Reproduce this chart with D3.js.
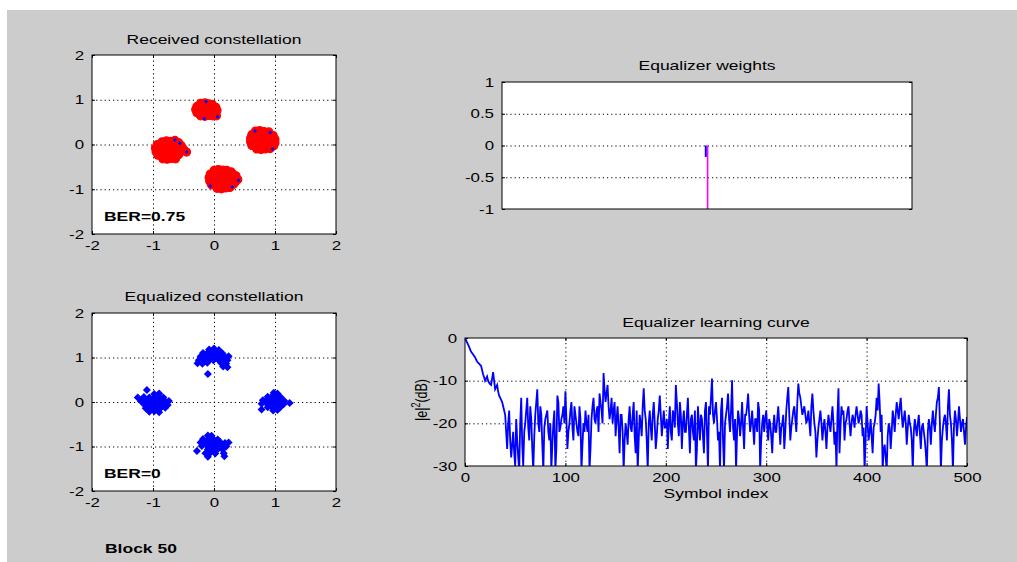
<!DOCTYPE html>
<html>
<head>
<meta charset="utf-8">
<script src="https://cdnjs.cloudflare.com/ajax/libs/d3/7.8.5/d3.min.js"></script>
<style>
  body { margin: 0; background: #ffffff; }
  text { font-family: "Liberation Sans", Arial, sans-serif; font-size: 12.5px; fill: #000; }
</style>
</head>
<body>
<div id="chart"></div>
<script>
// ---- data ----

// received constellation (red 'o' markers), one array per cluster
var recTop = [[-0.22,0.92],[-0.15,0.93],[-0.09,0.91],[-0.03,0.9],
  [-0.28,0.85],[-0.21,0.86],[-0.15,0.84],[-0.09,0.85],[-0.03,0.84],[0.03,0.83],
  [-0.3,0.78],[-0.24,0.77],[-0.18,0.79],[-0.12,0.78],[-0.06,0.77],[0.0,0.78],[0.05,0.76],
  [-0.28,0.71],[-0.22,0.72],[-0.16,0.7],[-0.1,0.71],[-0.04,0.7],[0.02,0.71],
  [-0.22,0.64],[-0.15,0.63],[-0.08,0.65],[-0.02,0.64],[0.04,0.64]];
var recRight = [[0.68,0.3],[0.75,0.31],[0.82,0.29],[0.9,0.28],
  [0.62,0.22],[0.68,0.23],[0.74,0.21],[0.8,0.22],[0.86,0.2],[0.92,0.22],[0.97,0.2],
  [0.6,0.14],[0.66,0.13],[0.72,0.15],[0.78,0.14],[0.84,0.13],[0.9,0.15],[0.96,0.13],[1.0,0.12],
  [0.6,0.06],[0.66,0.07],[0.72,0.05],[0.78,0.06],[0.84,0.07],[0.9,0.05],[0.96,0.06],[1.0,0.04],
  [0.62,-0.02],[0.68,-0.03],[0.74,-0.01],[0.8,-0.02],[0.86,-0.03],[0.92,-0.01],[0.98,-0.03],
  [0.7,-0.1],[0.77,-0.11],[0.84,-0.1],[0.92,-0.09]];
var recLeft = [[-0.85,0.06],[-0.78,0.08],[-0.71,0.07],[-0.64,0.09],[-0.58,0.04],
  [-0.93,0.0],[-0.87,-0.01],[-0.8,0.0],[-0.74,-0.01],[-0.67,0.0],[-0.6,-0.01],[-0.54,-0.02],
  [-0.96,-0.08],[-0.9,-0.08],[-0.83,-0.07],[-0.77,-0.09],[-0.7,-0.08],[-0.63,-0.07],[-0.56,-0.09],[-0.5,-0.1],
  [-0.95,-0.16],[-0.88,-0.17],[-0.82,-0.15],[-0.75,-0.16],[-0.68,-0.17],[-0.62,-0.15],[-0.55,-0.17],[-0.45,-0.17],
  [-0.92,-0.24],[-0.85,-0.25],[-0.79,-0.23],[-0.72,-0.24],[-0.65,-0.25],[-0.58,-0.23],
  [-0.84,-0.32],[-0.77,-0.33],[-0.7,-0.31],[-0.63,-0.32]];
var recBottom = [[0.0,-0.58],[0.07,-0.56],[0.14,-0.57],[0.21,-0.58],[0.28,-0.61],
  [-0.06,-0.66],[0.0,-0.65],[0.06,-0.67],[0.12,-0.66],[0.18,-0.65],[0.24,-0.67],[0.31,-0.66],[0.36,-0.7],
  [-0.08,-0.74],[-0.02,-0.75],[0.04,-0.73],[0.1,-0.74],[0.16,-0.75],[0.22,-0.73],[0.28,-0.74],[0.34,-0.75],[0.39,-0.78],
  [-0.07,-0.82],[-0.01,-0.83],[0.05,-0.81],[0.11,-0.82],[0.17,-0.83],[0.23,-0.81],[0.29,-0.82],[0.35,-0.84],
  [-0.04,-0.9],[0.02,-0.91],[0.08,-0.89],[0.14,-0.9],[0.2,-0.91],[0.26,-0.9],[0.32,-0.89],
  [0.05,-0.98],[0.12,-0.99],[0.19,-0.97],[0.26,-0.96]];
// blue '.' points of the received block that show through at the rims
var recBlue = [[-0.13,0.96],[0.06,0.62],[-0.16,0.58],[-0.64,0.1],[-0.56,0.03],[-0.45,-0.17],
  [0.67,0.3],[0.92,0.27],[0.96,-0.1],[0.4,-0.8],[-0.06,-0.93],[0.3,-0.95]];

// equalized constellation (blue markers)
var eqTop = [[-0.08,1.18],[0.0,1.2],[0.08,1.17],
  [-0.18,1.1],[-0.1,1.11],[-0.02,1.1],[0.06,1.12],[0.14,1.09],
  [-0.22,1.02],[-0.14,1.03],[-0.06,1.01],[0.02,1.03],[0.1,1.02],[0.18,1.01],[0.24,1.03],
  [-0.25,0.94],[-0.17,0.95],[-0.09,0.93],[-0.01,0.94],[0.07,0.95],[0.15,0.93],[0.22,0.94],
  [-0.27,0.87],[-0.19,0.86],[-0.11,0.88],[0.12,0.87],[0.2,0.86],
  [0.15,0.8],[0.22,0.78],[-0.1,0.63]];
var eqRight = [[0.98,0.21],[1.04,0.19],
  [0.88,0.12],[0.95,0.13],[1.02,0.12],[1.09,0.11],
  [0.8,0.04],[0.87,0.05],[0.94,0.04],[1.01,0.03],[1.08,0.05],[1.15,0.03],
  [0.78,-0.04],[0.86,-0.03],[0.93,-0.05],[1.0,-0.04],[1.07,-0.03],[1.14,-0.05],[1.24,-0.02],
  [0.88,-0.12],[0.95,-0.11],[1.02,-0.13],[1.09,-0.11],
  [0.78,-0.17],[0.97,-0.19],[1.04,-0.18]];
var eqLeft = [[-1.1,0.27],[-0.98,0.18],[-0.9,0.19],
  [-1.25,0.1],[-1.15,0.11],[-1.06,0.1],[-0.98,0.09],[-0.9,0.11],[-0.83,0.1],
  [-1.2,0.02],[-1.12,0.03],[-1.04,0.01],[-0.96,0.02],[-0.88,0.03],[-0.8,0.01],[-0.74,0.02],
  [-1.14,-0.06],[-1.06,-0.05],[-0.98,-0.07],[-0.9,-0.06],[-0.82,-0.05],[-0.76,-0.07],
  [-1.12,-0.14],[-1.04,-0.13],[-0.96,-0.15],[-0.88,-0.14],[-0.8,-0.13],
  [-1.06,-0.22],[-0.98,-0.21],[-0.9,-0.23]];
var eqBottom = [[-0.1,-0.75],[-0.04,-0.76],
  [-0.18,-0.83],[-0.1,-0.84],[-0.02,-0.82],[0.06,-0.84],
  [-0.22,-0.91],[-0.14,-0.9],[-0.06,-0.92],[0.02,-0.91],[0.1,-0.9],[0.18,-0.92],[0.24,-0.91],
  [-0.2,-0.99],[-0.12,-0.98],[-0.04,-1.0],[0.04,-0.99],[0.12,-0.98],[0.2,-1.0],
  [-0.28,-1.1],[-0.1,-1.07],[-0.02,-1.08],[0.06,-1.06],[0.14,-1.07],
  [-0.14,-1.15],[-0.06,-1.14],[0.02,-1.16],[0.16,-1.15],
  [-0.1,-1.23],[0.17,-1.22]];

// equalizer weights (taps 1..21): real part blue, imaginary part magenta
var taps = [1,2,3,4,5,6,7,8,9,10,11,12,13,14,15,16,17,18,19,20,21];
var weightsReal = [0,0,0,0,0,0,0,0,0,0,-0.18,0,0,0,0,0,0,0,0,0,0];
var weightsImag = [0,0,0,0,0,0,0,0,0,0,-1,0,0,0,0,0,0,0,0,0,0];

// learning curve |e|^2 in dB: even symbols 0..500
var errDbEven = [
  0, -1, -2, -3.2, -3.8, -4.5, -5.5, -6, -6.5, -8.5,
  -10, -9, -10.5, -11, -8, -12, -11, -13.5, -14.5, -16,
  -18, -26, -17, -28, -22, -30, -24, -31, -14, -30,
  -20, -14, -24, -19, -31, -18, -12, -22, -18, -31,
  -19, -17, -24, -31, -20, -31, -13.5, -22, -19, -16,
  -12.5, -26, -20, -15, -24, -18, -22, -16, -31, -20,
  -17, -22, -31, -19, -14, -20, -16, -13, -17, -8.2,
  -15, -11, -19, -14, -17, -23, -16, -27, -18, -31,
  -20, -25, -16, -22, -15, -27, -31, -18, -23, -11.8,
  -19, -31, -17, -24, -15, -26, -19, -13.5, -23, -17,
  -21, -26, -16, -24, -18, -11, -20, -15, -26, -17,
  -22, -14, -27, -18, -24, -31, -16, -24, -19, -27,
  -15, -31, -18, -9.5, -20, -15, -24, -31, -14, -31,
  -18, -13, -22, -9.9, -24, -31, -17, -23, -15, -26,
  -18, -13, -22, -17, -25, -19, -15, -31, -20, -22,
  -17, -24, -20, -27, -18, -22, -16, -25, -20, -26,
  -17, -11.5, -24, -19, -16, -22, -10.7, -14, -18, -16,
  -20, -17, -23, -13, -20, -28, -21, -17, -24, -19,
  -26, -18, -22, -16, -25, -31, -11.8, -21, -18, -24,
  -19, -16, -23, -18, -21, -16, -20, -17, -23, -31,
  -16, -24, -19, -27, -20, -14, -10.7, -22, -31, -25,
  -31, -20, -26, -17, -22, -15, -19, -14, -21, -17,
  -25, -18, -21, -31, -19, -23, -18, -26, -20, -24,
  -31, -19, -25, -17, -22, -15, -11.5, -31, -21, -18,
  -24, -12, -20, -31, -17, -23, -16, -22, -19, -25,
  -18.5
];
// odd symbols 1..499
var errDbOdd = [
  -0.5, -1.5, -2.6, -3.5, -4.2, -5, -5.8, -6.3, -7.5, -9.2,
  -9.5, -10, -10.8, -9.5, -10, -11.5, -12.5, -14, -15, -17,
  -22, -20, -24, -25, -27, -19, -28, -20, -25, -22,
  -17, -21, -16, -26, -23, -15, -20, -16, -25, -21,
  -18, -22, -20, -25, -17, -26, -15, -21, -18, -20,
  -19, -22, -17, -21, -16, -20, -23, -19, -25, -22,
  -20, -18, -26, -16, -19, -17, -22, -15, -20, -12,
  -13, -16, -17, -20, -15, -19, -21, -18, -22, -24,
  -22, -19, -21, -18, -23, -17, -24, -20, -16, -17,
  -24, -20, -21, -18, -20, -23, -17, -18, -20, -21,
  -19, -20, -22, -17, -21, -15, -23, -18, -20, -22,
  -18, -21, -19, -22, -17, -26, -20, -18, -23, -17,
  -22, -16, -14, -18, -17, -19, -22, -17, -24, -20,
  -16, -19, -17, -21, -19, -22, -19, -20, -21, -18,
  -16, -18, -20, -21, -19, -22, -17, -24, -18, -19,
  -21, -19, -23, -21, -22, -19, -20, -21, -18, -22,
  -14, -18, -21, -17, -19, -15, -13, -16, -17, -18,
  -19, -20, -16, -17, -22, -24, -19, -20, -21, -22,
  -21, -20, -19, -20, -22, -18, -27, -16, -17, -20,
  -17, -20, -20, -19, -18, -18, -19, -18, -21, -24,
  -20, -22, -23, -21, -18, -17, -15, -18, -26, -28,
  -23, -21, -22, -19, -18, -17, -16, -18, -19, -20,
  -21, -20, -24, -22, -21, -20, -22, -21, -22, -27,
  -22, -21, -20, -20, -18, -14, -20, -24, -19, -20,
  -16, -18, -24, -21, -19, -20, -19, -20, -22, -21
];
// interleave into one series, symbol order
var errSymbols = [], errDb = [];
errDbEven.forEach(function(v, i) {
  errSymbols.push(2 * i); errDb.push(v);
  if (i < errDbOdd.length) { errSymbols.push(2 * i + 1); errDb.push(errDbOdd[i]); }
});

var constTicks = [-2, -1, 0, 1, 2];
var constGrid = [-1, 0, 1];
var weightTicks = [-1, -0.5, 0, 0.5, 1];
var weightGrid = [-0.5, 0, 0.5];
var lcXTicks = [0, 100, 200, 300, 400, 500];
var lcXGrid = [100, 200, 300, 400];
var lcYTicks = [-30, -20, -10, 0];
var lcYGrid = [-20, -10];

// ---- drawing ----
var w = 1017, h = 562;
var stretch = 1.35;      // the figure is horizontally stretched, so is its text
var titleStretch = 1.4;

var svg = d3.select("#chart").append("svg")
  .attr("width", w)
  .attr("height", h);

svg.append("rect")
  .attr("x", 7).attr("y", 10)
  .attr("width", w - 7).attr("height", h - 10)
  .attr("fill", "#cccccc");

function label(x, y, txt, anchor, bold) {
  return svg.append("text")
    .attr("transform", "translate(" + x + "," + y + ") scale(" + titleStretch + ",1)")
    .attr("text-anchor", anchor || "middle")
    .style("font-weight", bold ? "bold" : "normal")
    .text(txt);
}

function fmt(d) { return String(d); }

// white plot area, dotted grid, inward ticks on all sides, labels left/bottom
function makeAxes(box, xDom, yDom, o) {
  var x = d3.scaleLinear().domain(xDom).range([box.x0, box.x1]);
  var y = d3.scaleLinear().domain(yDom).range([box.y1, box.y0]);
  var pw = box.x1 - box.x0, ph = box.y1 - box.y0;

  svg.append("rect")
    .attr("x", box.x0).attr("y", box.y0)
    .attr("width", pw).attr("height", ph)
    .attr("fill", "#ffffff");

  if (o.xGrid) {
    svg.append("g").attr("class", "grid")
      .attr("transform", "translate(0," + box.y1 + ")")
      .call(d3.axisBottom(x).tickValues(o.xGrid).tickSize(-ph).tickFormat(""));
  }
  if (o.yGrid) {
    svg.append("g").attr("class", "grid")
      .attr("transform", "translate(" + box.x0 + ",0)")
      .call(d3.axisLeft(y).tickValues(o.yGrid).tickSize(-pw).tickFormat(""));
  }
  svg.selectAll(".grid .domain").remove();
  svg.selectAll(".grid line")
    .attr("stroke", "#000")
    .attr("stroke-width", 1)
    .attr("stroke-dasharray", "1.2,3");

  if (o.xTicks) {
    var gx = svg.append("g").attr("class", "tk")
      .attr("transform", "translate(0," + box.y1 + ")")
      .call(d3.axisBottom(x).tickValues(o.xTicks).tickSize(-3).tickPadding(7).tickFormat(fmt));
    gx.selectAll("text").attr("transform", "scale(" + stretch + ",1)");
    svg.append("g").attr("class", "tk")
      .attr("transform", "translate(0," + box.y0 + ")")
      .call(d3.axisTop(x).tickValues(o.xTicks).tickSize(-3).tickFormat(""));
  }
  var gy = svg.append("g").attr("class", "tk")
    .attr("transform", "translate(" + box.x0 + ",0)")
    .call(d3.axisLeft(y).tickValues(o.yTicks).tickSize(-3).tickPadding(8).tickFormat(fmt));
  gy.selectAll("text")
    .attr("x", -8 / stretch)
    .attr("transform", "scale(" + stretch + ",1)");
  svg.append("g").attr("class", "tk")
    .attr("transform", "translate(" + box.x1 + ",0)")
    .call(d3.axisRight(y).tickValues(o.yTicks).tickSize(-3).tickFormat(""));

  svg.selectAll(".tk .domain").remove();
  svg.selectAll(".tk text").style("font-size", "12.5px").attr("fill", "#000");
  svg.selectAll(".tk line").attr("stroke", "#000");

  var clipId = "clip" + Math.round(box.x0) + "_" + Math.round(box.y0);
  svg.append("clipPath").attr("id", clipId)
    .append("rect")
    .attr("x", box.x0).attr("y", box.y0)
    .attr("width", pw).attr("height", ph);
  var plot = svg.append("g").attr("clip-path", "url(#" + clipId + ")");

  label((box.x0 + box.x1) / 2, o.titleY, o.title);

  return { x: x, y: y, plot: plot, box: box };
}

function frame(ax) {
  var b = ax.box;
  svg.append("rect")
    .attr("x", b.x0).attr("y", b.y0)
    .attr("width", b.x1 - b.x0).attr("height", b.y1 - b.y0)
    .attr("fill", "none")
    .attr("stroke", "#000")
    .attr("stroke-width", 1);
}

var square = d3.symbol().type(d3.symbolSquare);

// received constellation
var rc = makeAxes({ x0: 92, x1: 336, y0: 55, y1: 234 }, [-2, 2], [-2, 2],
  { xTicks: constTicks, yTicks: constTicks, xGrid: constGrid, yGrid: constGrid,
    title: "Received constellation", titleY: 43.5 });

var recAll = recTop.concat(recRight, recLeft, recBottom);
rc.plot.selectAll("circle.rec")
  .data(recAll)
  .enter()
  .append("circle")
  .attr("class", "rec")
  .attr("cx", function(d) { return rc.x(d[0]); })
  .attr("cy", function(d) { return rc.y(d[1]); })
  .attr("r", 4)
  .attr("fill", "#ff0000")
  .attr("stroke", "#ff0000")
  .attr("stroke-width", 1.2);

rc.plot.selectAll("path.rb")
  .data(recBlue)
  .enter()
  .append("path")
  .attr("class", "rb")
  .attr("d", square.size(8))
  .attr("transform", function(d) { return "translate(" + rc.x(d[0]) + "," + rc.y(d[1]) + ") rotate(45)"; })
  .attr("fill", "#0000ff");

frame(rc);
label(104, 221, "BER=0.75", "start", true);

// equalized constellation
var ec = makeAxes({ x0: 92, x1: 336, y0: 313, y1: 491 }, [-2, 2], [-2, 2],
  { xTicks: constTicks, yTicks: constTicks, xGrid: constGrid, yGrid: constGrid,
    title: "Equalized constellation", titleY: 301 });

var eqAll = eqTop.concat(eqRight, eqLeft, eqBottom);
ec.plot.selectAll("path.eq")
  .data(eqAll)
  .enter()
  .append("path")
  .attr("class", "eq")
  .attr("d", square.size(32))
  .attr("transform", function(d) { return "translate(" + ec.x(d[0]) + "," + ec.y(d[1]) + ") rotate(45)"; })
  .attr("fill", "#0000ff");

frame(ec);
label(104, 478, "BER=0", "start", true);

// equalizer weights
var wt = makeAxes({ x0: 502, x1: 912, y0: 82, y1: 209 }, [0, 22], [-1, 1],
  { yTicks: weightTicks, yGrid: weightGrid, title: "Equalizer weights", titleY: 69.5 });

wt.plot.selectAll("line.wr")
  .data(taps)
  .enter()
  .append("line")
  .attr("class", "wr")
  .attr("x1", function(d) { return wt.x(d) - 1.2; })
  .attr("x2", function(d) { return wt.x(d) - 1.2; })
  .attr("y1", wt.y(0))
  .attr("y2", function(d, i) { return wt.y(weightsReal[i]); })
  .attr("stroke", "#0000ff")
  .attr("stroke-width", 2);

wt.plot.selectAll("line.wi")
  .data(taps)
  .enter()
  .append("line")
  .attr("class", "wi")
  .attr("x1", function(d) { return wt.x(d) + 0.6; })
  .attr("x2", function(d) { return wt.x(d) + 0.6; })
  .attr("y1", wt.y(0))
  .attr("y2", function(d, i) { return wt.y(weightsImag[i]); })
  .attr("stroke", "#ff00ff")
  .attr("stroke-width", 1.6);

frame(wt);

// learning curve
var lc = makeAxes({ x0: 465, x1: 967, y0: 338, y1: 466 }, [0, 500], [-30, 0],
  { xTicks: lcXTicks, yTicks: lcYTicks, xGrid: lcXGrid, yGrid: lcYGrid,
    title: "Equalizer learning curve", titleY: 326.5 });

var line = d3.line()
  .x(function(d, i) { return lc.x(errSymbols[i]); })
  .y(function(d) { return lc.y(d); });

lc.plot.append("path")
  .datum(errDb)
  .attr("d", line)
  .attr("fill", "none")
  .attr("stroke", "#0000ff")
  .attr("stroke-width", 1.8);

frame(lc);

label(716, 498, "Symbol index");

var yl = svg.append("text")
  .attr("transform", "translate(427,400) rotate(-90) scale(1," + stretch + ")")
  .attr("text-anchor", "middle");
yl.append("tspan").text("|e|");
yl.append("tspan").attr("dy", -5).style("font-size", "9px").text("2");
yl.append("tspan").attr("dy", 5).text("(dB)");

label(105, 553, "Block 50", "start", true);
</script>
</body>
</html>
